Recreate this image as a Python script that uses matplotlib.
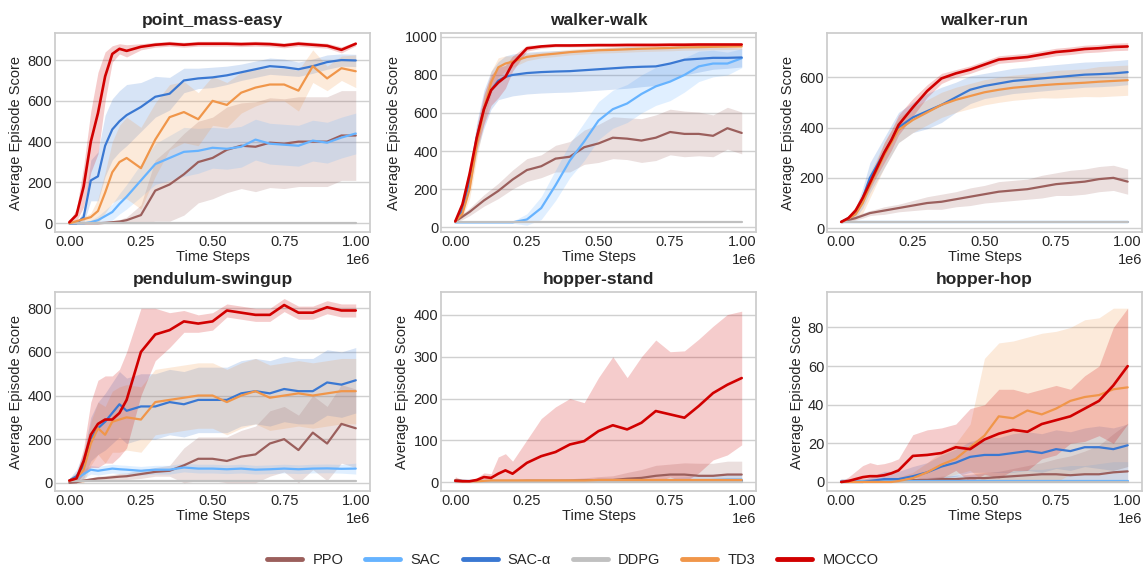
import numpy as np
import matplotlib
matplotlib.use("Agg")
import matplotlib.pyplot as plt
import seaborn as sns

# ---------------- data ----------------
X_FRAC = [0, 0.025, 0.05, 0.075, 0.1, 0.125, 0.15, 0.175, 0.2, 0.25, 0.3, 0.35, 0.4,
          0.45, 0.5, 0.55, 0.6, 0.65, 0.7, 0.75, 0.8, 0.85, 0.9, 0.95, 1.0]
STEP_SCALE = 1e6

ALGOS = ["PPO", "SAC", "SAC-α", "DDPG", "TD3", "MOCCO"]
COLORS = ["#9b5f5c", "#66b3ff", "#3a78d2", "#c0c0c0", "#f0964a", "#d10000"]
ENVS = ["point_mass-easy", "walker-walk", "walker-run",
        "pendulum-swingup", "hopper-stand", "hopper-hop"]
YLIMS = [(-44, 932), (-27, 1020), (-16, 775), (-38, 875), (-21.5, 455), (-4.7, 98.4)]

# point_mass-easy
PM_PPO = [0, 0, 0, 0, 0, 2, 5, 8, 15, 40, 160, 190, 240, 300, 320, 360, 380, 375, 395, 390, 400, 400, 400, 430, 430]
PM_PPO_SD = [2, 2, 2, 2, 3, 5, 8, 10, 15, 50, 150, 180, 200, 200, 200, 210, 210, 220, 220, 220, 220, 220, 220, 220, 220]
PM_SAC = [0, 0, 0, 5, 15, 35, 55, 95, 130, 210, 290, 320, 350, 355, 370, 365, 375, 410, 390, 385, 380, 405, 395, 420, 440]
PM_SAC_SD = [2, 2, 5, 10, 20, 30, 40, 50, 60, 80, 100, 110, 120, 110, 100, 100, 100, 100, 100, 100, 100, 100, 100, 100, 100]
PM_SACA = [0, 0, 30, 210, 230, 380, 460, 500, 530, 570, 620, 635, 700, 710, 715, 725, 740, 755, 770, 765, 755, 770, 790, 800, 798]
PM_SACA_SD = [2, 5, 30, 100, 120, 150, 150, 150, 150, 120, 100, 80, 60, 50, 50, 45, 40, 40, 40, 40, 35, 35, 35, 30, 30]
PM_DDPG = [2, 2, 2, 2, 2, 2, 2, 2, 2, 2, 2, 2, 2, 2, 2, 2, 2, 2, 2, 2, 2, 2, 2, 2, 2]
PM_DDPG_SD = [1, 1, 1, 1, 1, 1, 1, 1, 1, 1, 1, 1, 1, 1, 1, 1, 1, 1, 1, 1, 1, 1, 1, 1, 1]
PM_TD3 = [0, 10, 20, 30, 60, 150, 250, 300, 320, 270, 410, 520, 545, 510, 600, 580, 640, 665, 680, 680, 650, 770, 710, 760, 745]
PM_TD3_SD = [2, 5, 10, 20, 60, 100, 150, 180, 200, 200, 180, 160, 150, 130, 120, 110, 100, 90, 80, 80, 100, 80, 60, 60, 80]
PM_MOCCO = [5, 40, 180, 400, 540, 720, 830, 855, 845, 865, 875, 880, 875, 880, 880, 880, 878, 880, 878, 872, 880, 875, 870, 850, 880]
PM_MOCCO_SD = [5, 30, 100, 150, 200, 120, 40, 25, 30, 15, 12, 12, 12, 12, 12, 12, 12, 12, 12, 12, 12, 12, 12, 15, 10]

# walker-walk
WW_PPO = [30, 55, 80, 110, 140, 165, 190, 220, 250, 300, 320, 360, 370, 420, 440, 470, 465, 455, 470, 500, 490, 490, 480, 520, 495]
WW_PPO_SD = [5, 15, 20, 25, 30, 35, 40, 45, 50, 60, 60, 70, 80, 90, 100, 110, 110, 115, 120, 120, 120, 115, 110, 110, 110]
WW_SAC = [25, 25, 25, 25, 25, 25, 25, 25, 25, 40, 100, 220, 350, 450, 560, 620, 650, 700, 740, 765, 800, 845, 860, 860, 888]
WW_SAC_SD = [5, 5, 5, 5, 5, 5, 5, 5, 5, 30, 60, 80, 90, 100, 100, 100, 100, 100, 100, 100, 90, 80, 70, 60, 50]
WW_SACA = [30, 90, 250, 470, 620, 720, 770, 790, 800, 810, 815, 818, 820, 825, 830, 835, 840, 843, 845, 860, 880, 885, 890, 890, 892]
WW_SACA_SD = [5, 20, 50, 80, 100, 100, 100, 110, 110, 110, 110, 110, 110, 110, 110, 110, 110, 105, 100, 90, 80, 70, 60, 55, 50]
WW_DDPG = [25, 25, 25, 25, 25, 25, 25, 25, 25, 25, 25, 25, 25, 25, 25, 25, 25, 25, 25, 25, 25, 25, 25, 25, 25]
WW_DDPG_SD = [2, 2, 2, 2, 2, 2, 2, 2, 2, 2, 2, 2, 2, 2, 2, 2, 2, 2, 2, 2, 2, 2, 2, 2, 2]
WW_TD3 = [30, 70, 200, 430, 620, 760, 840, 860, 870, 895, 905, 912, 920, 925, 930, 932, 935, 938, 940, 942, 945, 946, 948, 949, 950]
WW_TD3_SD = [5, 20, 50, 70, 70, 60, 50, 40, 30, 20, 15, 15, 15, 15, 15, 15, 15, 15, 15, 15, 15, 15, 15, 15, 15]
WW_MOCCO = [30, 120, 280, 470, 620, 720, 760, 790, 860, 940, 950, 955, 955, 956, 957, 957, 958, 958, 958, 959, 959, 960, 960, 960, 960]
WW_MOCCO_SD = [5, 30, 40, 60, 80, 80, 80, 60, 40, 15, 10, 8, 8, 8, 8, 8, 8, 8, 8, 8, 8, 8, 8, 8, 8]

# walker-run
WR_PPO = [25, 33, 40, 50, 60, 65, 70, 75, 80, 90, 100, 105, 115, 125, 135, 145, 150, 155, 165, 175, 180, 185, 195, 200, 185]
WR_PPO_SD = [3, 5, 8, 10, 10, 12, 15, 15, 15, 20, 25, 30, 30, 35, 35, 40, 40, 40, 45, 45, 50, 50, 50, 50, 50]
WR_SAC = [25, 25, 25, 25, 25, 25, 25, 25, 25, 25, 25, 25, 25, 25, 25, 25, 25, 25, 25, 25, 25, 25, 25, 25, 25]
WR_SAC_SD = [3, 3, 3, 3, 3, 3, 3, 3, 3, 3, 3, 3, 3, 3, 3, 3, 3, 3, 3, 3, 3, 3, 3, 3, 3]
WR_SACA = [25, 40, 60, 120, 200, 250, 300, 350, 400, 440, 465, 490, 520, 550, 565, 575, 585, 590, 595, 600, 605, 610, 612, 615, 620]
WR_SACA_SD = [5, 10, 20, 40, 60, 60, 60, 60, 60, 60, 70, 70, 60, 55, 50, 50, 50, 50, 50, 50, 50, 50, 50, 50, 50]
WR_DDPG = [26, 26, 26, 26, 26, 26, 26, 26, 26, 26, 26, 26, 26, 26, 26, 26, 26, 26, 26, 26, 26, 26, 26, 26, 26]
WR_DDPG_SD = [2, 2, 2, 2, 2, 2, 2, 2, 2, 2, 2, 2, 2, 2, 2, 2, 2, 2, 2, 2, 2, 2, 2, 2, 2]
WR_TD3 = [25, 38, 55, 100, 170, 230, 290, 340, 390, 430, 460, 490, 510, 525, 540, 550, 558, 563, 568, 572, 575, 578, 582, 585, 588]
WR_TD3_SD = [5, 10, 20, 40, 50, 50, 50, 50, 50, 50, 50, 50, 50, 50, 50, 50, 50, 50, 50, 55, 55, 55, 60, 60, 60]
WR_MOCCO = [25, 40, 70, 120, 180, 240, 300, 350, 410, 480, 545, 595, 615, 630, 650, 670, 675, 680, 690, 700, 705, 712, 715, 720, 722]
WR_MOCCO_SD = [5, 10, 15, 20, 25, 30, 40, 40, 40, 35, 25, 20, 15, 15, 15, 15, 15, 15, 15, 15, 15, 15, 15, 15, 15]

# pendulum-swingup
PS_PPO = [0, 3, 10, 15, 20, 22, 25, 28, 30, 40, 50, 55, 80, 110, 110, 100, 120, 130, 180, 200, 150, 230, 180, 270, 250]
PS_PPO_SD = [5, 5, 5, 8, 10, 10, 12, 15, 15, 20, 20, 25, 80, 100, 100, 110, 120, 130, 150, 150, 160, 170, 170, 180, 180]
PS_SAC = [10, 20, 40, 60, 55, 60, 65, 62, 60, 55, 60, 60, 70, 65, 65, 62, 65, 60, 62, 65, 62, 65, 66, 64, 65]
PS_SAC_SD = [10, 15, 20, 20, 20, 20, 20, 20, 20, 20, 20, 20, 20, 20, 20, 20, 20, 20, 20, 20, 20, 20, 20, 20, 25]
PS_SACA = [10, 30, 80, 200, 250, 280, 320, 360, 330, 350, 350, 370, 360, 380, 380, 380, 410, 420, 410, 430, 420, 420, 460, 450, 470]
PS_SACA_SD = [10, 30, 60, 100, 120, 130, 140, 150, 150, 150, 150, 150, 150, 150, 150, 150, 150, 150, 150, 150, 150, 150, 150, 150, 150]
PS_DDPG = [10, 10, 10, 10, 10, 10, 10, 10, 10, 10, 10, 10, 10, 10, 10, 10, 10, 10, 10, 10, 10, 10, 10, 10, 10]
PS_DDPG_SD = [3, 3, 3, 3, 3, 3, 3, 3, 3, 3, 3, 3, 3, 3, 3, 3, 3, 3, 3, 3, 3, 3, 3, 3, 3]
PS_TD3 = [10, 20, 60, 180, 250, 220, 280, 290, 300, 290, 370, 380, 390, 400, 400, 370, 400, 420, 390, 400, 410, 400, 410, 420, 420]
PS_TD3_SD = [10, 30, 60, 100, 120, 130, 140, 150, 150, 150, 150, 150, 150, 150, 150, 150, 150, 150, 150, 150, 150, 150, 150, 150, 150]
PS_MOCCO = [10, 20, 100, 220, 270, 290, 290, 320, 380, 600, 680, 700, 740, 730, 740, 790, 780, 770, 770, 815, 780, 780, 805, 790, 790]
PS_MOCCO_SD = [10, 20, 60, 150, 200, 200, 200, 200, 220, 200, 120, 80, 50, 40, 40, 30, 30, 30, 30, 30, 30, 30, 30, 30, 30]

# hopper-stand
HS_PPO = [5, 3, 2, 2, 2, 2, 2, 2, 2, 3, 3, 3, 3, 4, 5, 5, 8, 10, 15, 18, 18, 15, 15, 18, 18]
HS_PPO_SD = [5, 3, 2, 2, 2, 2, 2, 2, 2, 3, 3, 3, 5, 6, 8, 10, 15, 20, 25, 25, 28, 30, 30, 32, 32]
HS_SAC = [2, 2, 2, 2, 2, 2, 2, 2, 2, 2, 2, 2, 2, 2, 2, 2, 2, 2, 2, 2, 3, 4, 5, 6, 6]
HS_SAC_SD = [2, 2, 2, 2, 2, 2, 2, 2, 2, 2, 2, 2, 2, 2, 3, 3, 4, 5, 6, 8, 10, 12, 14, 15, 15]
HS_SACA = [2, 2, 2, 2, 2, 2, 2, 2, 2, 2, 2, 2, 2, 2, 2, 2, 2, 2, 2, 2, 2, 2, 2, 2, 2]
HS_SACA_SD = [2, 2, 2, 2, 2, 2, 2, 2, 2, 2, 2, 2, 2, 2, 2, 2, 2, 2, 2, 2, 2, 2, 2, 2, 2]
HS_DDPG = [1, 1, 1, 1, 1, 1, 1, 1, 1, 1, 1, 1, 1, 1, 1, 1, 1, 1, 1, 1, 1, 1, 1, 1, 1]
HS_DDPG_SD = [1, 1, 1, 1, 1, 1, 1, 1, 1, 1, 1, 1, 1, 1, 1, 1, 1, 1, 1, 1, 1, 1, 1, 1, 1]
HS_TD3 = [3, 2, 2, 2, 3, 4, 4, 4, 4, 4, 4, 4, 4, 4, 5, 5, 5, 5, 5, 5, 5, 5, 5, 5, 5]
HS_TD3_SD = [2, 2, 2, 2, 2, 2, 2, 2, 2, 2, 2, 2, 2, 2, 2, 2, 2, 2, 2, 2, 2, 2, 2, 2, 2]
HS_MOCCO = [3, 2, 2, 5, 12, 10, 20, 28, 20, 46, 62, 72, 90, 98, 122, 136, 126, 142, 170, 162, 154, 182, 213, 233, 249]
HS_MOCCO_SD = [10, 3, 3, 5, 10, 10, 40, 40, 30, 55, 90, 108, 110, 92, 128, 164, 124, 158, 170, 150, 160, 160, 160, 168, 160]

# hopper-hop
HH_PPO = [0.5, 0.5, 0.5, 0.5, 0.5, 0.5, 0.5, 0.5, 0.5, 1, 1, 1.5, 1.5, 2, 2, 2.5, 3, 3.5, 4, 4, 3.5, 4, 4, 5, 5.5]
HH_PPO_SD = [1, 1, 1, 1, 1, 1, 1, 1, 1, 1, 1, 1.5, 2, 2, 3, 3, 4, 5, 6, 8, 10, 12, 15, 20, 25]
HH_SAC = [0.5, 0.5, 0.5, 0.5, 0.5, 0.5, 0.5, 0.5, 0.5, 0.5, 0.5, 0.5, 0.5, 0.5, 0.5, 0.5, 0.5, 0.5, 0.5, 0.5, 0.5, 0.5, 0.5, 0.5, 0.5]
HH_SAC_SD = [0.5, 0.5, 0.5, 0.5, 0.5, 0.5, 0.5, 1, 1, 1, 2, 2, 3, 3, 4, 5, 5, 6, 6, 7, 8, 8, 9, 10, 10]
HH_SACA = [0, 0, 0, 0, 0.5, 1, 1.5, 1.5, 1.5, 3, 5, 8, 10, 13, 14, 14, 15, 16, 15, 17, 16, 18, 18, 17, 19]
HH_SACA_SD = [0.5, 0.5, 0.5, 1, 2, 3, 4, 4, 4, 5, 5, 6, 7, 8, 9, 9, 10, 10, 10, 10, 10, 10, 11, 11, 11]
HH_DDPG = [0.2, 0.2, 0.2, 0.2, 0.2, 0.2, 0.2, 0.2, 0.2, 0.2, 0.2, 0.2, 0.2, 0.2, 0.2, 0.2, 0.2, 0.2, 0.2, 0.2, 0.2, 0.2, 0.2, 0.2, 0.2]
HH_DDPG_SD = [0.3, 0.3, 0.3, 0.3, 0.3, 0.3, 0.3, 0.3, 0.3, 0.3, 0.3, 0.3, 0.3, 0.3, 0.3, 0.3, 0.3, 0.3, 0.3, 0.3, 0.3, 0.3, 0.3, 0.3, 0.3]
HH_TD3 = [0, 0, 0, 0, 0, 0, 0, 0, 0.5, 2, 5, 9, 12, 18, 24, 34, 33, 37, 35, 38, 42, 44, 45, 48, 49]
HH_TD3_SD = [0.5, 0.5, 0.5, 0.5, 0.5, 0.5, 0.5, 1, 2, 3, 5, 7, 8, 12, 40, 38, 40, 38, 42, 40, 38, 40, 40, 42, 41]
HH_MOCCO = [0, 0.5, 1.5, 2.5, 3, 3, 3.5, 4.5, 6, 13.5, 14, 15, 18, 17, 22, 25, 27, 26, 30, 32, 34, 38, 42, 50, 60]
HH_MOCCO_SD = [0.5, 2, 4, 6, 7, 6, 6, 6, 6, 11, 13, 13, 12, 21, 18, 23, 21, 20, 18, 18, 14, 17, 18, 30, 30]

PANELS = [
    [(PM_PPO, PM_PPO_SD), (PM_SAC, PM_SAC_SD), (PM_SACA, PM_SACA_SD), (PM_DDPG, PM_DDPG_SD), (PM_TD3, PM_TD3_SD), (PM_MOCCO, PM_MOCCO_SD)],
    [(WW_PPO, WW_PPO_SD), (WW_SAC, WW_SAC_SD), (WW_SACA, WW_SACA_SD), (WW_DDPG, WW_DDPG_SD), (WW_TD3, WW_TD3_SD), (WW_MOCCO, WW_MOCCO_SD)],
    [(WR_PPO, WR_PPO_SD), (WR_SAC, WR_SAC_SD), (WR_SACA, WR_SACA_SD), (WR_DDPG, WR_DDPG_SD), (WR_TD3, WR_TD3_SD), (WR_MOCCO, WR_MOCCO_SD)],
    [(PS_PPO, PS_PPO_SD), (PS_SAC, PS_SAC_SD), (PS_SACA, PS_SACA_SD), (PS_DDPG, PS_DDPG_SD), (PS_TD3, PS_TD3_SD), (PS_MOCCO, PS_MOCCO_SD)],
    [(HS_PPO, HS_PPO_SD), (HS_SAC, HS_SAC_SD), (HS_SACA, HS_SACA_SD), (HS_DDPG, HS_DDPG_SD), (HS_TD3, HS_TD3_SD), (HS_MOCCO, HS_MOCCO_SD)],
    [(HH_PPO, HH_PPO_SD), (HH_SAC, HH_SAC_SD), (HH_SACA, HH_SACA_SD), (HH_DDPG, HH_DDPG_SD), (HH_TD3, HH_TD3_SD), (HH_MOCCO, HH_MOCCO_SD)],
]

# ---------------- style ----------------
sns.set_theme(style="whitegrid")
plt.rcParams["font.family"] = ["Liberation Sans", "DejaVu Sans"]
plt.rcParams["axes.edgecolor"] = "#cccccc"
plt.rcParams["grid.color"] = "#d0d0d0"

fig, axes = plt.subplots(2, 3, figsize=(11.46, 5.71), dpi=100)
fig.subplots_adjust(left=0.048, right=0.9965, top=0.942, bottom=0.14, wspace=0.225, hspace=0.30)

x = np.array(X_FRAC) * STEP_SCALE
for ax, env, series, ylim in zip(axes.flat, ENVS, PANELS, YLIMS):
    for name, color, (mean, sd) in zip(ALGOS, COLORS, series):
        m = np.array(mean, dtype=float)
        s = np.array(sd, dtype=float)
        lo = np.maximum(m - s, 0)
        hi = m + s
        ax.fill_between(x, lo, hi, color=color, alpha=0.2, linewidth=0)
        lw = 1.9 if name == "MOCCO" else 1.6
        ax.plot(x, m, color=color, lw=lw, label=name)
    ax.set_title(env, fontsize=12.5, fontweight="bold", color="#262626", pad=6)
    ax.set_xlabel("Time Steps", fontsize=10.5, labelpad=1)
    ax.set_ylabel("Average Episode Score", fontsize=10.5, labelpad=3)
    ax.set_xlim(-0.05e6, 1.05e6)
    ax.set_ylim(*ylim)
    ax.set_xticks([0, 0.25e6, 0.5e6, 0.75e6, 1.0e6])
    ax.tick_params(axis="both", labelsize=10.5, pad=2, length=0)
    ax.xaxis.get_offset_text().set_fontsize(10.5)
    ax.grid(axis="x", visible=False)
    ax.grid(axis="y", visible=True, lw=1.0)

handles, labels = axes.flat[0].get_legend_handles_labels()
leg = fig.legend(handles, labels, loc="center", bbox_to_anchor=(0.5, 0.019), ncol=6,
                 frameon=False, fontsize=10.5, handlelength=2.4, columnspacing=1.5,
                 handletextpad=0.7)
for line in leg.get_lines():
    line.set_linewidth(3.5)

fig.savefig("out.png", dpi=100)
